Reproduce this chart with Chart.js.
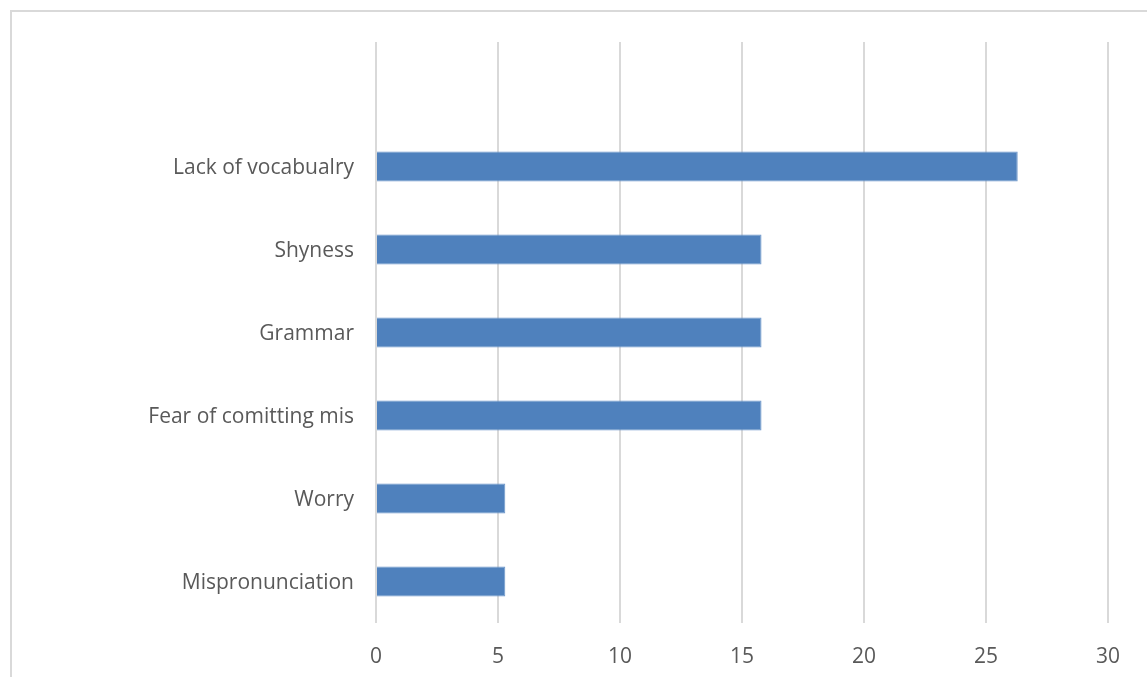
<!DOCTYPE html>
<html>
<head>
<meta charset="utf-8">
<script src="https://cdn.jsdelivr.net/npm/chart.js@4/dist/chart.umd.min.js"></script>
<style>
  html, body { margin: 0; padding: 0; background: #fff; }
  #wrap { position: relative; width: 1147px; height: 677px; overflow: hidden; }
  #frame { position: absolute; left: 10px; top: 10px; width: 1145px; height: 700px;
           border-left: 2px solid #d9d9d9; border-top: 2px solid #d9d9d9; box-sizing: border-box; }
  canvas { position: absolute; left: 0; top: 0; }
</style>
</head>
<body>
<div id="wrap">
  <div id="frame"></div>
  <canvas id="c" width="1147" height="677"></canvas>
</div>
<script>
const categories = ["", "Lack of vocabualry", "Shyness", "Grammar", "Fear of comitting mis", "Worry", "Mispronunciation"];
const values = [null, 26.3, 15.8, 15.8, 15.8, 5.3, 5.3];
const xTicks = [0, 5, 10, 15, 20, 25, 30];

const textColor = "#595959";
const fontFamily = "'Open Sans', 'Liberation Sans', sans-serif";

new Chart(document.getElementById("c"), {
  type: "bar",
  data: {
    labels: categories,
    datasets: [{
      data: values,
      backgroundColor: "#4f81bd",
      borderColor: "#6b95c9",
      borderWidth: 1,
      categoryPercentage: 1.0,
      barPercentage: 0.36
    }]
  },
  options: {
    indexAxis: "y",
    responsive: false,
    animation: false,
    layout: { padding: { top: 42, right: 39, left: 0, bottom: 0 } },
    plugins: { legend: { display: false }, tooltip: { enabled: false } },
    scales: {
      x: {
        min: 0, max: 30,
        afterBuildTicks: (s) => { s.ticks = xTicks.map(v => ({ value: v })); },
        grid: { color: "#d9d9d9", lineWidth: 2, drawTicks: false },
        border: { display: false },
        ticks: { color: textColor, font: { family: fontFamily, size: 21 }, padding: 21 },
        afterFit: (s) => { s.height = 54; }
      },
      y: {
        grid: { display: false, drawTicks: false },
        border: { display: false },
        ticks: { color: textColor, font: { family: fontFamily, size: 21 }, padding: 22, autoSkip: false, labelOffset: 2 },
        afterFit: (s) => { s.width = 376; }
      }
    }
  }
});
</script>
</body>
</html>
